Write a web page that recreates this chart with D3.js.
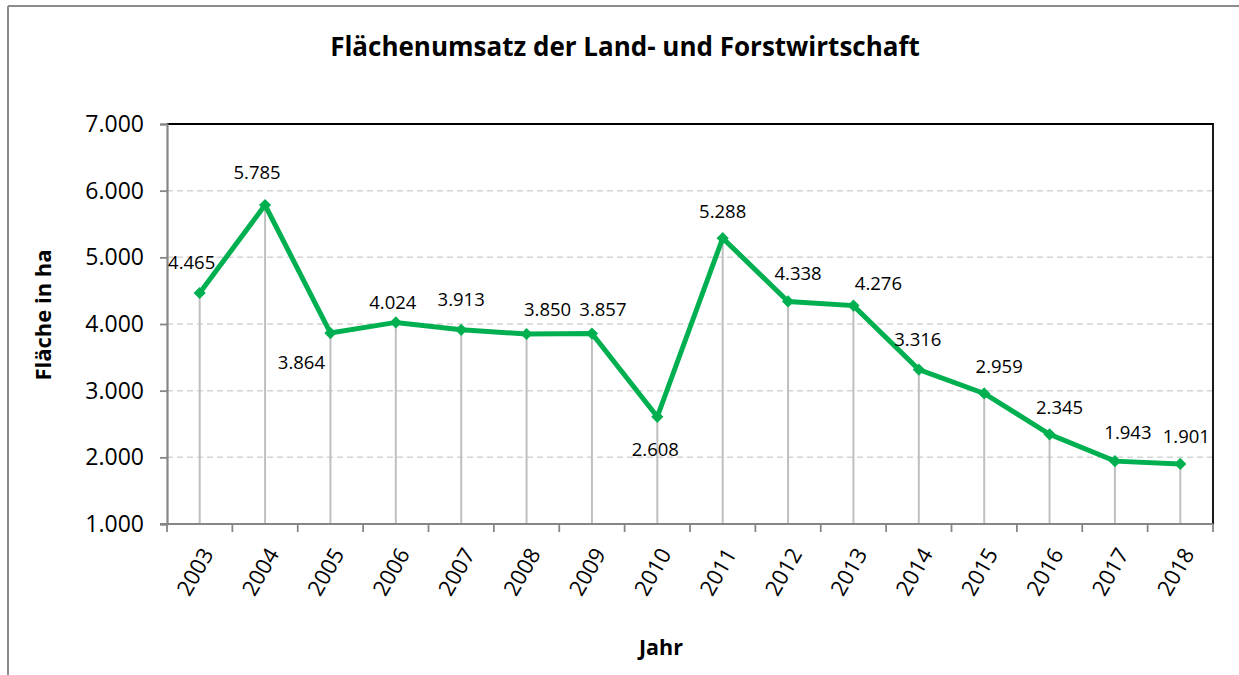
<!DOCTYPE html>
<html>
<head>
<meta charset="utf-8">
<script src="https://cdn.jsdelivr.net/npm/d3@7"></script>
<style>
  html, body { margin: 0; padding: 0; background: #fff; }
  svg { display: block; font-family: "Open Sans", "Noto Sans", sans-serif; }
</style>
</head>
<body>
<svg id="chart" width="1239" height="675"></svg>
<script>
// ---- data ----
const years = ["2003","2004","2005","2006","2007","2008","2009","2010","2011","2012","2013","2014","2015","2016","2017","2018"];
const areaHa = [4465, 5785, 3864, 4024, 3913, 3850, 3857, 2608, 5288, 4338, 4276, 3316, 2959, 2345, 1943, 1901];
const yTicks = [1000, 2000, 3000, 4000, 5000, 6000, 7000];
const titleText = "Flächenumsatz der Land- und Forstwirtschaft";
const yTitle = "Fläche in ha";
const xTitle = "Jahr";
// label placement offsets (layout only)
const labelDx = [-8, -8, -29, -3, 0, 21, 11, -2, 0, 10, 25, -1, 15, 10, 13, 6];
const labelDy = [-30, -32, 29, -20, -30, -24, -24, 33, -27, -28, -22, -30, -27, -27, -29, -27];

const fmt = d3.formatLocale({decimal: ",", thousands: ".", grouping: [3]}).format(",.0f");

const svg = d3.select("#chart");
const W = 1239, H = 675;
const pL = 167, pR = 1213, pT = 124, pB = 524;

// outer frame (top and left visible)
svg.append("line").attr("x1", 8).attr("x2", W).attr("y1", 6).attr("y2", 6)
  .attr("stroke", "#8c8c8c").attr("stroke-width", 2);
svg.append("line").attr("x1", 8).attr("x2", 8).attr("y1", 6).attr("y2", H)
  .attr("stroke", "#8c8c8c").attr("stroke-width", 2);

const x = d3.scaleBand().domain(years).range([pL, pR]).padding(0);
const y = d3.scaleLinear().domain([1000, 7000]).range([pB, pT]);

// gridlines
svg.append("g").selectAll("line")
  .data(yTicks.filter(t => t > 1000 && t < 7000))
  .join("line")
  .attr("x1", pL).attr("x2", pR)
  .attr("y1", d => y(d)).attr("y2", d => y(d))
  .attr("stroke", "#d4d4d4").attr("stroke-width", 1.5)
  .attr("stroke-dasharray", "6,4");

// plot frame top & right (black)
svg.append("path")
  .attr("d", `M${pL},${pT}H${pR}V${pB}`)
  .attr("fill", "none").attr("stroke", "#000").attr("stroke-width", 1.8);

// drop lines
const cx = d => x(d) + x.bandwidth() / 2;
svg.append("g").selectAll("line")
  .data(years)
  .join("line")
  .attr("x1", d => cx(d)).attr("x2", d => cx(d))
  .attr("y1", (d, i) => y(areaHa[i])).attr("y2", pB)
  .attr("stroke", "#bfbfbf").attr("stroke-width", 2);

// y axis
const yAxis = d3.axisLeft(y).tickValues(yTicks).tickSize(7).tickPadding(16).tickFormat(fmt);
const gy = svg.append("g").attr("transform", `translate(${pL},0)`).call(yAxis);
gy.select(".domain").attr("stroke", "#868686").attr("stroke-width", 2.2);
gy.selectAll(".tick line").attr("stroke", "#868686").attr("stroke-width", 1.8);
gy.selectAll(".tick text").attr("font-size", 23).attr("fill", "#000")
  .attr("font-family", "'Open Sans', sans-serif");

// x axis: ticks at band boundaries
const boundaries = years.map(d => x(d)).concat([pR]);
const gx = svg.append("g");
gx.append("line").attr("x1", pL - 7).attr("x2", pR).attr("y1", pB).attr("y2", pB)
  .attr("stroke", "#868686").attr("stroke-width", 2.2);
gx.selectAll("line.tk").data(boundaries).join("line").attr("class", "tk")
  .attr("x1", d => d).attr("x2", d => d).attr("y1", pB).attr("y2", pB + 8)
  .attr("stroke", "#868686").attr("stroke-width", 1.8);
gx.selectAll("text").data(years).join("text")
  .attr("transform", d => `translate(${cx(d) + 8},${pB + 26}) rotate(-60)`)
  .attr("text-anchor", "end")
  .attr("dy", "0.35em")
  .attr("font-size", 22)
  .attr("fill", "#000")
  .text(d => d);

// line
const line = d3.line().x((d, i) => cx(years[i])).y(d => y(d));
svg.append("path").datum(areaHa)
  .attr("d", line)
  .attr("fill", "none").attr("stroke", "#00b050").attr("stroke-width", 5)
  .attr("stroke-linejoin", "miter");

// markers (diamonds)
const diamond = d3.symbol().type(d3.symbolDiamond2).size(95);
svg.append("g").selectAll("path")
  .data(areaHa)
  .join("path")
  .attr("d", diamond)
  .attr("transform", (d, i) => `translate(${cx(years[i])},${y(d)})`)
  .attr("fill", "#00b050");

// data labels
svg.append("g").selectAll("text")
  .data(areaHa)
  .join("text")
  .attr("x", (d, i) => cx(years[i]) + labelDx[i])
  .attr("y", (d, i) => y(d) + labelDy[i])
  .attr("dy", "0.35em")
  .attr("text-anchor", "middle")
  .attr("font-size", 18.5)
  .attr("fill", "#000")
  .text(d => fmt(d));

// titles
svg.append("text").attr("x", 625).attr("y", 47).attr("dy", "0.35em")
  .attr("text-anchor", "middle").attr("font-size", 26).attr("font-weight", "bold")
  .attr("fill", "#000").text(titleText);
svg.append("text").attr("transform", `translate(43,315) rotate(-90)`).attr("dy", "0.35em")
  .attr("text-anchor", "middle").attr("font-size", 22).attr("font-weight", "bold")
  .attr("fill", "#000").text(yTitle);
svg.append("text").attr("x", 661).attr("y", 647).attr("dy", "0.35em")
  .attr("text-anchor", "middle").attr("font-size", 21.5).attr("font-weight", "bold")
  .attr("fill", "#000").text(xTitle);
</script>
</body>
</html>
